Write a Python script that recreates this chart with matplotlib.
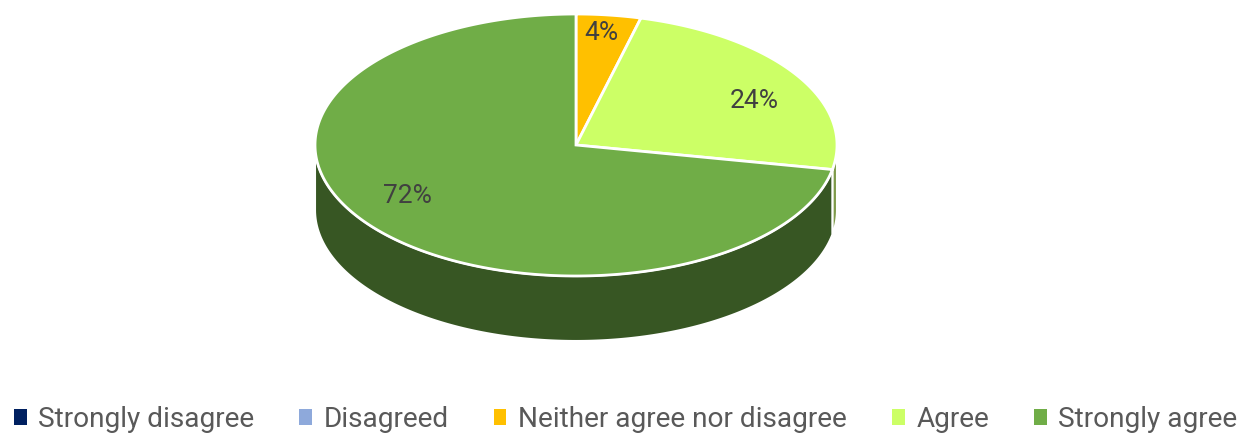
import matplotlib
matplotlib.use("Agg")
import matplotlib.pyplot as plt
import numpy as np
from matplotlib.patches import Polygon, Patch

# data
categories = ["Strongly disagree", "Disagreed", "Neither agree nor disagree", "Agree", "Strongly agree"]
values = [0, 0, 4, 24, 72]
colors = ["#002060", "#8EA9DB", "#FFC000", "#CCFF66", "#70AD47"]
side_colors = ["#001030", "#475570", "#7F6000", "#7E9A4A", "#375623"]
# radial position of each % label (x factor, y factor)
label_pos = [(0.8, 0.7), (0.8, 0.7), (0.77, 0.86), (0.81, 0.62), (0.84, 0.61)]

plt.rcParams["font.family"] = ["Roboto", "DejaVu Sans"]

fig = plt.figure(figsize=(12.54, 4.37), dpi=100)
ax = fig.add_axes([0, 0, 1, 1])
ax.set_xlim(0, 1254)
ax.set_ylim(437, 0)
ax.axis("off")

# 3D pie geometry (pixels)
cx, cy = 576, 145
rx, ry = 261, 131
depth = 65


def ell(theta):
    t = np.radians(theta)
    return cx + rx * np.sin(t), cy - ry * np.cos(t)


total = sum(values)
bounds = np.concatenate([[0], np.cumsum(values)]) / total * 360

# side walls (front half only: 90..270 deg)
for i in range(len(values)):
    a0, a1 = bounds[i], bounds[i + 1]
    if a1 <= a0:
        continue
    s0, s1 = max(a0, 90), min(a1, 270)
    if s1 <= s0:
        continue
    th = np.linspace(s0, s1, 200)
    xs, ys = ell(th)
    pts = np.column_stack([np.concatenate([xs, xs[::-1]]),
                           np.concatenate([ys, ys[::-1] + depth])])
    ax.add_patch(Polygon(pts, closed=True, facecolor=side_colors[i],
                         edgecolor="white", linewidth=1.5, zorder=1))

# top face
for i in range(len(values)):
    a0, a1 = bounds[i], bounds[i + 1]
    if a1 <= a0:
        continue
    th = np.linspace(a0, a1, 300)
    xs, ys = ell(th)
    pts = np.column_stack([np.concatenate([[cx], xs]), np.concatenate([[cy], ys])])
    ax.add_patch(Polygon(pts, closed=True, facecolor=colors[i],
                         edgecolor="white", linewidth=2, joinstyle="miter", zorder=2))

# labels
for i in range(len(values)):
    if values[i] == 0:
        continue
    mid = (bounds[i] + bounds[i + 1]) / 2
    t = np.radians(mid)
    fx, fy = label_pos[i]
    lx = cx + fx * rx * np.sin(t)
    ly = cy - fy * ry * np.cos(t)
    ax.text(lx, ly, f"{values[i]}%", ha="center", va="center",
            fontsize=19, color="#404040", zorder=3)

handles = [Patch(facecolor=c, edgecolor="none") for c in colors]
fig.legend(handles, categories, loc="center", bbox_to_anchor=(0.499, 0.04),
           ncol=5, frameon=False, fontsize=20.2, labelcolor="#595959",
           handlelength=0.45, handleheight=0.45, handletextpad=0.42,
           columnspacing=1.6)

fig.savefig("out.png", dpi=100, facecolor="white")
